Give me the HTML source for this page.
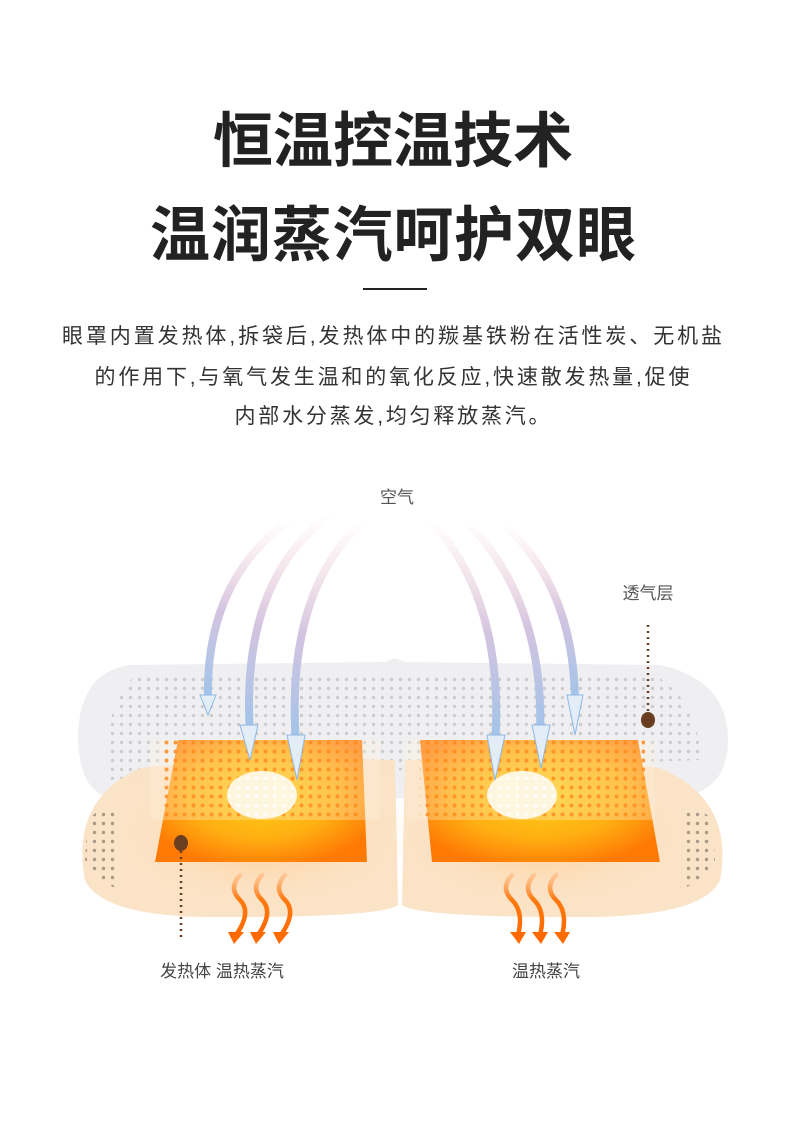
<!DOCTYPE html>
<html><head><meta charset="utf-8"><style>
html,body{margin:0;padding:0;background:#fff}
svg{display:block}
text{font-family:"Liberation Sans","Noto Sans CJK SC",sans-serif}
</style></head><body>
<svg width="790" height="1131" viewBox="0 0 790 1131" xmlns="http://www.w3.org/2000/svg">
<defs>
<pattern id="dg" width="9" height="9" patternUnits="userSpaceOnUse"><circle cx="4.5" cy="4.5" r="1.7" fill="#c9c9c9"/></pattern>
<pattern id="dt" width="9" height="9" patternUnits="userSpaceOnUse"><circle cx="4.5" cy="4.5" r="1.7" fill="#a89a88"/></pattern>
<pattern id="do" width="9" height="9" patternUnits="userSpaceOnUse"><circle cx="4.5" cy="4.5" r="2" fill="#ff8a1a" opacity="0.8"/></pattern>
<pattern id="dw" width="9" height="9" patternUnits="userSpaceOnUse"><circle cx="4.5" cy="4.5" r="1.8" fill="#fff"/></pattern>
<radialGradient id="og" cx="0.5" cy="0.45" r="0.6"><stop offset="0" stop-color="#ffd21a"/><stop offset="0.6" stop-color="#ffae12"/><stop offset="1" stop-color="#ff7a05"/></radialGradient>
<radialGradient id="glow" cx="0.5" cy="0.5" r="0.5"><stop offset="0" stop-color="#ffc27a" stop-opacity="0.8"/><stop offset="1" stop-color="#ffe5c4" stop-opacity="0"/></radialGradient>
<linearGradient id="ar" x1="0" y1="1" x2="0" y2="0"><stop offset="0" stop-color="#9fc3ea"/><stop offset="0.5" stop-color="#d4c4e0"/><stop offset="1" stop-color="#f8d0d0" stop-opacity="0"/></linearGradient>
<linearGradient id="st" x1="0" y1="0" x2="0" y2="1"><stop offset="0" stop-color="#ffb070" stop-opacity="0.5"/><stop offset="0.4" stop-color="#ff7a10"/><stop offset="1" stop-color="#ff6a00"/></linearGradient>
</defs>

<text x="393" y="162" font-size="60" font-weight="bold" fill="#222" text-anchor="middle" textLength="360">恒温控温技术</text>
<text x="393" y="256" font-size="60" font-weight="bold" fill="#222" text-anchor="middle" textLength="486">温润蒸汽呵护双眼</text>
<rect x="363" y="288" width="64" height="2" fill="#222"/>
<text x="392" y="343" font-size="21" fill="#333" text-anchor="middle" textLength="660">眼罩内置发热体,拆袋后,发热体中的羰基铁粉在活性炭、无机盐</text>
<text x="392" y="384" font-size="21" fill="#333" text-anchor="middle" textLength="595">的作用下,与氧气发生温和的氧化反应,快速散发热量,促使</text>
<text x="392" y="423" font-size="21" fill="#333" text-anchor="middle" textLength="315">内部水分蒸发,均匀释放蒸汽。</text>

<text x="397" y="503" font-size="17" fill="#555" text-anchor="middle">空气</text>
<text x="648" y="599" font-size="17" fill="#555" text-anchor="middle">透气层</text>
<text x="222" y="977" font-size="17" fill="#444" text-anchor="middle">发热体 温热蒸汽</text>
<text x="546" y="977" font-size="17" fill="#444" text-anchor="middle">温热蒸汽</text>

<!-- top breathable layer -->
<path d="M130 665 L385 662 L395 658 L405 662 L660 665 Q728 680 728 740 Q728 790 680 798 L110 798 Q78 790 78 735 Q80 672 130 665Z" fill="#efeff1"/>
<path d="M140 672 L650 672 Q700 700 700 760 L110 780 Q100 700 140 672Z" fill="url(#dg)" opacity="0.9"/>

<!-- bottom beige layer -->
<path d="M140 768 Q250 756 395 760 L398 905 Q380 918 200 917 Q100 914 85 880 Q70 800 140 768Z" fill="#fbe2c4" opacity="0.95"/>
<path d="M405 760 Q560 756 660 768 Q735 800 720 880 Q705 914 600 917 Q420 918 402 905Z" fill="#fbe2c4" opacity="0.95"/>
<path d="M88 820 Q100 805 118 812 Q110 860 120 890 Q95 880 85 860Z" fill="url(#dt)"/>
<path d="M712 820 Q700 805 682 812 Q690 860 680 890 Q705 880 715 860Z" fill="url(#dt)"/>
<ellipse cx="262" cy="835" rx="150" ry="75" fill="url(#glow)"/>
<ellipse cx="540" cy="835" rx="150" ry="75" fill="url(#glow)"/>

<!-- heating pads -->
<path d="M178 740 L362 740 L367 862 L155 862 Z" fill="url(#og)"/>
<path d="M420 740 L638 740 L660 862 L432 862 Z" fill="url(#og)"/>
<!-- translucent overlay of top layer over pad upper parts -->
<rect x="150" y="740" width="230" height="80" rx="6" fill="#fff2dc" opacity="0.3"/>
<rect x="405" y="740" width="250" height="80" rx="6" fill="#fff2dc" opacity="0.3"/>
<rect x="160" y="740" width="200" height="78" fill="url(#do)"/>
<rect x="420" y="740" width="225" height="78" fill="url(#do)"/>
<ellipse cx="262" cy="795" rx="35" ry="24" fill="#fff6e0"/>
<ellipse cx="522" cy="795" rx="35" ry="24" fill="#fff6e0"/>
<ellipse cx="262" cy="795" rx="33" ry="22" fill="url(#dw)"/>
<ellipse cx="522" cy="795" rx="33" ry="22" fill="url(#dw)"/>

<!-- air arrows -->
<g fill="none" stroke="url(#ar)" stroke-width="8" stroke-linecap="round">
<path d="M208 700 Q205 580 290 520"/>
<path d="M250 735 Q240 580 330 515"/>
<path d="M296 745 Q285 590 365 520"/>
<path d="M495 745 Q505 600 430 520"/>
<path d="M540 735 Q545 600 465 520"/>
<path d="M575 705 Q575 590 505 525"/>
</g>
<g fill="#e2edf8" stroke="#8fb8e4" stroke-width="1">
<path d="M200 695 L216 695 L208 715Z"/>
<path d="M240 725 L258 725 L250 760Z"/>
<path d="M287 735 L305 735 L297 780Z"/>
<path d="M487 735 L505 735 L495 780Z"/>
<path d="M532 725 L550 725 L541 768Z"/>
<path d="M567 695 L583 695 L575 735Z"/>
</g>

<!-- steam arrows -->
<g fill="none" stroke="url(#st)" stroke-width="4.5" stroke-linecap="round">
<path d="M240 875 Q228 888 240 900 Q252 912 236 935"/>
<path d="M262 875 Q250 888 262 900 Q274 912 258 935"/>
<path d="M285 875 Q273 888 285 900 Q297 912 281 935"/>
<path d="M512 875 Q500 888 512 900 Q524 912 518 935"/>
<path d="M534 875 Q522 888 534 900 Q546 912 540 935"/>
<path d="M556 875 Q544 888 556 900 Q568 912 562 935"/>
</g>
<g fill="#ff6a00">
<path d="M228 932 L244 932 L234 944Z"/><path d="M250 932 L266 932 L256 944Z"/><path d="M273 932 L289 932 L279 944Z"/>
<path d="M510 932 L526 932 L519 944Z"/><path d="M532 932 L548 932 L541 944Z"/><path d="M554 932 L570 932 L563 944Z"/>
</g>

<!-- callouts -->
<line x1="648" y1="625" x2="648" y2="718" stroke="#6b3e22" stroke-width="2.5" stroke-dasharray="2 4"/>
<ellipse cx="648" cy="720" rx="7" ry="8" fill="#6b3e22"/>
<line x1="181" y1="845" x2="181" y2="940" stroke="#6b3e22" stroke-width="2.5" stroke-dasharray="2 4"/>
<ellipse cx="181" cy="843" rx="7" ry="8" fill="#6b3e22"/>
</svg>
</body></html>
